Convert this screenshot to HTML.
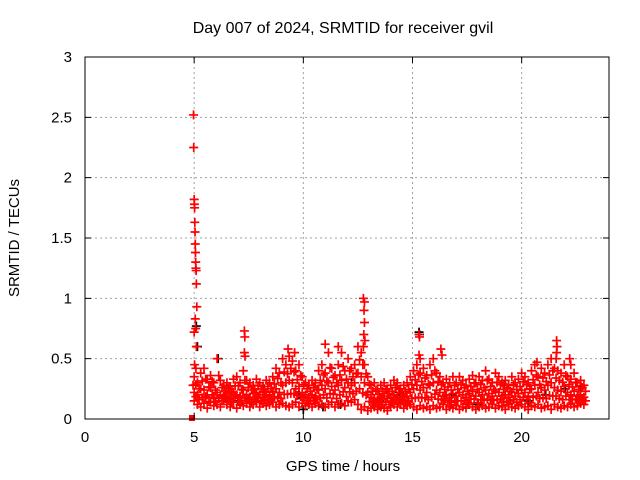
<!DOCTYPE html>
<html><head><meta charset="utf-8"><style>
body{margin:0;background:#fff}
svg{display:block;font-family:"Liberation Sans",sans-serif;font-size:15px}
</style></head><body>
<svg id="chart" width="640" height="480" viewBox="0 0 640 480" xmlns="http://www.w3.org/2000/svg">
<rect width="640" height="480" fill="#fff"/>
<text x="343" y="33" text-anchor="middle" font-size="16">Day 007 of 2024, SRMTID for receiver gvil</text>
<text x="19" y="238" text-anchor="middle" transform="rotate(-90 19 238)">SRMTID / TECUs</text>
<text x="343" y="471" text-anchor="middle">GPS time / hours</text>
<g id="grid"></g>
<g id="black"></g>
<g id="red"></g>
<rect x="85" y="57" width="524" height="362" fill="none" stroke="#000" stroke-width="1"/>
<g id="ticks"></g>
</svg>
<script>
const xTicks=[0,5,10,15,20];
const yTicks=[0,0.5,1,1.5,2,2.5,3];
const yTickLabels=["0","0.5","1","1.5","2","2.5","3"];
const t0=5.0, dt=0.15;
const lo=[.15,.12,.1,.13,.09,.14,.11,.12,.1,.15,.12,.1,.14,.09,.12,.11,.13,.1,.12,.14,.1,.13,.11,.12,.14,.1,.12,.13,.11,.1,.12,.14,.1,.13,.11,.12,.1,.13,.11,.12,.1,.12,.14,.1,.12,.13,.11,.15,.14,.16,.12,.08,.1,.07,.09,.1,.08,.1,.09,.07,.1,.12,.1,.13,.09,.11,.12,.1,.08,.11,.09,.1,.08,.11,.09,.1,.12,.08,.1,.09,.11,.08,.1,.09,.12,.1,.08,.1,.11,.09,.1,.12,.09,.11,.1,.08,.12,.1,.09,.11,.12,.1,.08,.11,.1,.12,.09,.1,.11,.08,.12,.1,.09,.11,.1,.12,.1,.11,.13,.12];
const mid=[.22,.2,.25,.24,.2,.26,.18,.22,.2,.19,.21,.18,.22,.2,.19,.24,.2,.18,.21,.22,.2,.18,.22,.2,.23,.25,.22,.28,.3,.32,.3,.25,.27,.22,.2,.18,.2,.19,.24,.28,.25,.3,.27,.24,.28,.32,.26,.3,.28,.3,.38,.35,.3,.22,.18,.17,.16,.18,.19,.17,.18,.2,.19,.17,.18,.19,.22,.25,.28,.24,.26,.22,.28,.3,.24,.22,.19,.2,.18,.21,.19,.22,.2,.18,.21,.23,.19,.22,.2,.24,.21,.19,.23,.22,.19,.2,.18,.22,.19,.21,.24,.22,.19,.25,.28,.22,.26,.24,.28,.3,.26,.24,.23,.27,.22,.2,.23,.19,.2,.18];
const hi=[.35,.3,.38,.42,.33,.36,.3,.5,.32,.28,.3,.27,.33,.35,.3,.4,.32,.3,.28,.33,.3,.27,.32,.3,.35,.42,.38,.5,.45,.52,.48,.4,.45,.35,.3,.28,.32,.3,.4,.45,.38,.55,.42,.36,.45,.55,.4,.5,.42,.45,.6,.55,.45,.35,.28,.3,.25,.28,.3,.25,.28,.32,.3,.25,.28,.3,.35,.4,.45,.38,.42,.36,.45,.5,.38,.35,.3,.33,.3,.35,.3,.35,.32,.28,.33,.36,.3,.35,.32,.4,.33,.3,.38,.35,.3,.32,.28,.35,.3,.33,.38,.35,.3,.4,.45,.35,.42,.38,.45,.5,.42,.4,.38,.45,.35,.33,.38,.3,.32,.28];
const peakT=[4.97,4.98,5.0,5.01,5.02,5.03,5.04,5.05,5.06,5.07,5.08,5.09,5.1,5.12,5.05,5.07,5.0,5.1,5.02,5.08,4.95,7.3,7.32,7.3,7.33,9.3,9.6,11.0,11.6,12.75,12.8,12.78,12.8,12.77,12.82,12.75,15.3,15.32,15.3,15.35,16.3,16.35,20.7,21.6,21.62,21.6,21.58,22.2,22.25];
const peakV=[2.52,2.25,1.82,1.78,1.75,1.63,1.55,1.45,1.38,1.3,1.25,1.23,1.12,0.93,0.83,0.75,0.72,0.6,0.45,0.42,0.28,0.73,0.68,0.55,0.52,0.58,0.55,0.62,0.6,1.0,0.97,0.9,0.8,0.7,0.65,0.6,0.7,0.68,0.53,0.5,0.58,0.53,0.47,0.65,0.6,0.55,0.5,0.5,0.45];
const blackT=[5.1,5.15,6.1,7.0,8.2,9.8,10.9,12.2,13.5,14.4,15.3,15.32,16.8,18.0,19.2,20.3,21.1,22.0,22.7,10.0,11.7];
const blackV=[0.77,0.6,0.5,0.15,0.25,0.2,0.1,0.3,0.15,0.22,0.72,0.7,0.2,0.12,0.28,0.15,0.2,0.25,0.27,0.08,0.12];
const zeroT=[4.9];
const zeroV=[0];
const X=v=>85+v*(524/24), Y=v=>419-v*(362/3);
const NS="http://www.w3.org/2000/svg";
function mk(tag,attrs,parent){const e=document.createElementNS(NS,tag);for(const k in attrs)e.setAttribute(k,attrs[k]);parent.appendChild(e);return e;}
const grid=document.getElementById('grid'),ticks=document.getElementById('ticks');
xTicks.forEach(v=>{
 if(v>0){const g=mk('line',{x1:X(v),x2:X(v),y1:57,y2:419,stroke:'#a0a0a0','stroke-dasharray':'2,3'},grid);
 
 }
 const t=mk('path',{d:`M${X(v)} 419v-6M${X(v)} 57v6`,stroke:'#000'},ticks);
 
 
 const l=mk('text',{x:X(v),y:442,'text-anchor':'middle'},ticks);l.textContent=v;
 
 
});
yTicks.forEach((v,i)=>{
 if(v>0&&v<3){const g=mk('line',{x1:85,x2:609,y1:Y(v),y2:Y(v),stroke:'#a0a0a0','stroke-dasharray':'2,3'},grid);
 
 }
 const t=mk('path',{d:`M85 ${Y(v)}h6M609 ${Y(v)}h-6`,stroke:'#000'},ticks);
 
 
 const l=mk('text',{x:72,y:Y(v)+5,'text-anchor':'end'},ticks);l.textContent=yTickLabels[i];
 
 
});
function plus(t,v,col,g){const p=mk('path',{d:`M${X(t)-4.5} ${Y(v)}h9M${X(t)} ${Y(v)-4.5}v9`,stroke:col,'stroke-width':1.7},g);
 
 }
const bg=document.getElementById('black'),rg=document.getElementById('red');
blackT.forEach((t,i)=>plus(t,blackV[i],'#000',bg));
[lo,mid,hi].forEach(arr=>arr.forEach((v,i)=>plus(t0+i*dt,v,'#ff0000',rg)));
lo.forEach((v,i)=>plus(t0+i*dt+dt/2,(v+mid[i])/2,'#ff0000',rg));
mid.forEach((v,i)=>plus(t0+i*dt+dt/2,(v+hi[i])/2,'#ff0000',rg));
peakT.forEach((t,i)=>plus(t,peakV[i],'#ff0000',rg));
zeroT.forEach((t,i)=>{const r=mk('rect',{x:X(t)-3,y:Y(zeroV[i])-4,width:6,height:6,fill:'#ff0000'},rg);
 
 });
</script>
</body></html>
